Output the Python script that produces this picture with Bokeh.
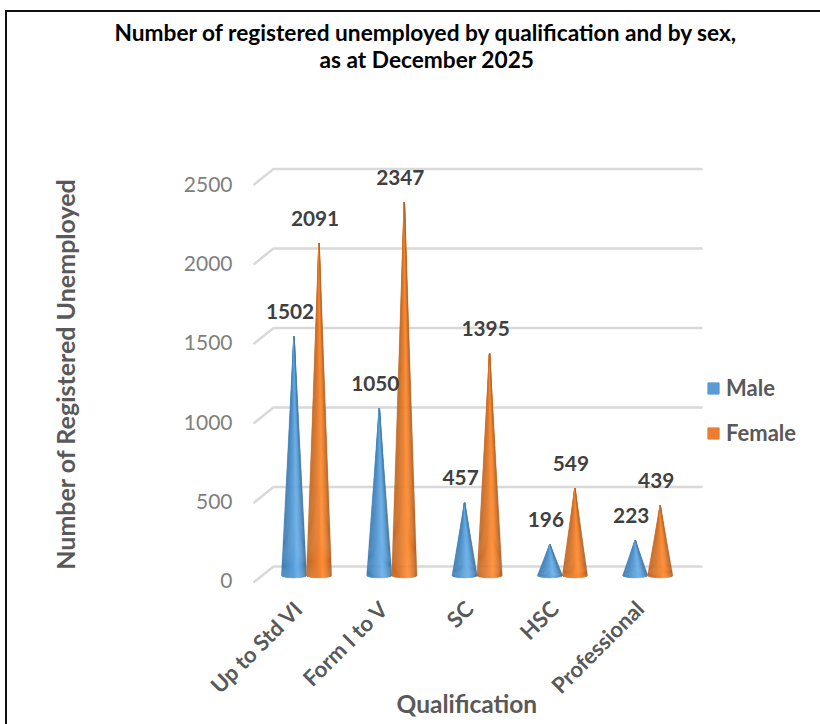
import math
import numpy as np
from bokeh.embed import file_html
from bokeh.resources import INLINE
from bokeh.plotting import figure
from bokeh.models import (ColumnDataSource, Range1d, LinearAxis, FixedTicker, Legend,
                          LegendItem, Title)
from bokeh.core.properties import value

categories = ["Up to Std VI", "Form I to V", "SC", "HSC", "Professional"]
male = [1502, 1050, 457, 196, 223]
female = [2091, 2347, 1395, 549, 439]
y_ticks = [0, 500, 1000, 1500, 2000, 2500]

FONT = "Lato"
PX_X = 85.3      # pixels per category
PX_Y = 0.159     # pixels per value unit
OX, OY = 7, 12   # where the canvas starts in the window
FL, FR = 252, 820  # frame left/right in window pixels

p = figure(width=820 - OX, height=724 - OY, output_backend="svg", toolbar_location=None,
           x_range=Range1d((FL - 306) / PX_X, (FR - 306) / PX_X),
           y_range=Range1d(-(584 - 575) / PX_Y, (575 - 163) / PX_Y),
           min_border_left=FL - OX, min_border_right=0, min_border_top=163 - OY, min_border_bottom=140,
           styles={"position": "absolute", "left": f"{OX}px", "top": f"{OY}px",
                   "box-shadow": "-2px -2px 0 0 #111, 4px -2px 0 0 #111, -2px 4px 0 0 #111"})
p.grid.visible = False
p.outline_line_color = None
p.background_fill_color = None
p.border_fill_color = "white"
p.yaxis.visible = False
p.xaxis.visible = False

# front-edge axis carries the tick labels
p.extra_y_ranges["front"] = Range1d(-(584 - 580) / 0.1584, (580 - 163) / 0.1584)
yax = LinearAxis(y_range_name="front", ticker=FixedTicker(ticks=y_ticks),
                 axis_line_color=None, major_tick_line_color=None, minor_tick_line_color=None,
                 major_tick_out=0, major_label_standoff=20,
                 major_label_text_font=FONT, major_label_text_font_size="21px",
                 major_label_text_color="#7f7f7f",
                 axis_label="Number of Registered Unemployed", axis_label_text_font=FONT,
                 axis_label_text_font_style="bold", axis_label_text_font_size="25px",
                 axis_label_text_color="#595959", axis_label_standoff=101)
p.add_layout(yax, "left")

# the rotated labels end a little left of each cluster's centre
p.extra_x_ranges["labels"] = Range1d((FL - 306 + 8) / PX_X, (FR - 306 + 8) / PX_X)
xax = LinearAxis(x_range_name="labels", ticker=FixedTicker(ticks=list(range(len(categories)))),
                 major_label_overrides={i: c for i, c in enumerate(categories)},
                 axis_line_color=None, major_tick_line_color=None, minor_tick_line_color=None,
                 major_tick_out=0, major_label_standoff=20,
                 major_label_orientation=math.pi / 4,
                 major_label_text_font=FONT, major_label_text_font_style="bold",
                 major_label_text_font_size="22px", major_label_text_color="#595959")
p.add_layout(xax, "below")
p.add_layout(Title(text="Qualification", align="left", offset=396 - FL, text_font=FONT,
                   text_font_style="bold", text_font_size="24.5px", text_color="#595959",
                   vertical_align="top", standoff=-45), "below")

# 3D-look gridlines: a slanted floor edge then the back wall line
x_front, x_back, x_right = (253 - 306) / PX_X, (273 - 306) / PX_X, (702 - 306) / PX_X
d_front, d_back = 7 / PX_Y, 9 / PX_Y
p.multi_line([[x_front, x_back, x_right] for _ in y_ticks],
             [[v - d_front, v + d_back, v + d_back] for v in y_ticks],
             line_color="#d9d9d9", line_width=2.5)


def mix(a, b, t):
    ca = [int(a[i:i + 2], 16) for i in (1, 3, 5)]
    cb = [int(b[i:i + 2], 16) for i in (1, 3, 5)]
    return "#%02x%02x%02x" % tuple(round(x + (y - x) * t) for x, y in zip(ca, cb))


def cone_source(values, off_px, edge_l, mid, edge_r):
    xs, ys, cols = [], [], []
    n = 24
    r = 12.6 / PX_X
    for i, v in enumerate(values):
        cx = i + off_px / PX_X
        ts = np.linspace(-1, 1, n + 1)
        for a, b in zip(ts[:-1], ts[1:]):
            tm = (a + b) / 2
            sub = np.linspace(a, b, 3)
            bx = cx + r * sub
            by = -2.4 / PX_Y * np.sqrt(np.clip(1 - sub ** 2, 0, 1))
            xs.append([cx + r * 0.02 * tm] + list(bx))
            ys.append([v] + list(by))
            peak = 0.25
            if tm < peak:
                cols.append(mix(edge_l, mid, ((tm + 1) / (peak + 1)) ** 1.3))
            else:
                cols.append(mix(mid, edge_r, ((tm - peak) / (1 - peak)) ** 1.6))
    return ColumnDataSource(dict(xs=xs, ys=ys, c=cols))


off_m, off_f = -12.5, 12.5
p.patches("xs", "ys", fill_color="c", line_color="c", line_width=0.4,
          source=cone_source(male, off_m, "#3f7fb5", "#69aee9", "#3c729f"))
p.patches("xs", "ys", fill_color="c", line_color="c", line_width=0.4,
          source=cone_source(female, off_f, "#c26a27", "#ff8b32", "#ad5f24"))

# value labels
for vals, off in ((male, off_m), (female, off_f)):
    src = ColumnDataSource(dict(x=[i + off / PX_X for i in range(len(vals))], y=vals,
                                t=[str(v) for v in vals]))
    p.text("x", "y", text="t", source=src, x_offset=-4, y_offset=-25,
           text_align="center", text_baseline="middle", text_font=value(FONT),
           text_font_style="bold", text_font_size="20.8px", text_color="#404040")

# legend
nan = [float("nan")]
r_m = p.quad(left=nan, right=nan, top=nan, bottom=nan, color="#5b9bd5")
r_f = p.quad(left=nan, right=nan, top=nan, bottom=nan, color="#ed7d31")
legend = Legend(items=[LegendItem(label="Male", renderers=[r_m]),
                       LegendItem(label="Female", renderers=[r_f])],
                location=(454, 138), orientation="vertical", border_line_color=None,
                background_fill_color=None, glyph_width=14, glyph_height=14, spacing=18,
                label_standoff=6, margin=0, padding=0,
                label_text_font=FONT, label_text_font_style="bold",
                label_text_font_size="22px", label_text_color="#595959")
p.add_layout(legend, "center")

# an unmarked axis keeps the gap between the plot and the title lines
p.add_layout(LinearAxis(ticker=FixedTicker(ticks=[0]), major_label_overrides={0: ""},
                        major_tick_out=91, major_tick_in=0, major_label_standoff=0,
                        major_label_text_font_size="1px", major_label_text_color=None,
                        axis_line_color=None, major_tick_line_color=None,
                        minor_tick_line_color=None), "above")

# title: two centred lines above the chart
for txt, off, gap in (("as at December 2025", 319 - FL, -1),
                      ("Number of registered unemployed by qualification and by sex,", 114 - FL, -2)):
    p.add_layout(Title(text=txt, align="left", offset=off, text_font=FONT, text_font_style="bold",
                       text_font_size="22.7px", text_color="#000000", standoff=gap), "above")

open("out.html", "w").write(file_html(p, INLINE))
